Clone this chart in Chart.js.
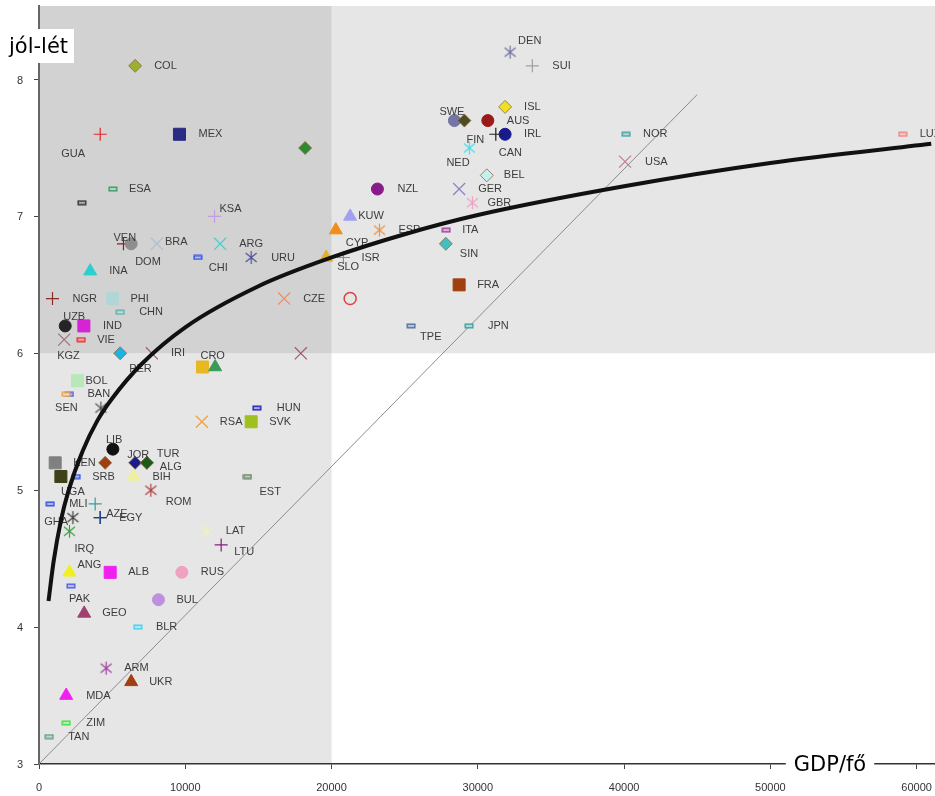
<!DOCTYPE html>
<html>
<head>
<meta charset="utf-8">
<script src="https://cdn.jsdelivr.net/npm/chart.js@4/dist/chart.umd.min.js"></script>
<style>
html,body{margin:0;padding:0;background:#fff;}
#wrap{position:relative;width:935px;height:796px;}
canvas{display:block;}
</style>
</head>
<body>
<div id="wrap"><canvas id="c" width="935" height="796"></canvas></div>
<script>
// ---------- DATA ----------
const countries = ['COL','GUA','MEX','','ESA','','KSA','VEN','DOM','BRA','ARG','CHI','URU','INA','NGR','PHI','CHN','UZB','IND','KGZ','VIE','PER','IRI','CRO','','','CZE','BOL','CYP','SLO','ISR','KUW','NZL','ESP','','GER','GBR','ITA','SIN','FRA','TPE','JPN','BEL','DEN','SUI','ISL','SWE','FIN','AUS','IRL','CAN','NED','NOR','USA','LUX','BAN','SEN','','HUN','RSA','SVK','LIB','KEN','','UGA','SRB','JOR','TUR','ALG','BIH','ROM','EST','GHA','MLI','','AZE','EGY','IRQ','LAT','LTU','ANG','ALB','RUS','PAK','BUL','GEO','BLR','ARM','UKR','MDA','ZIM','TAN'];
const gdpPerCapita = [6575,4184,9604,18196,5051,2932,11996,5776,6302,8059,12385,10861,14505,3500,923,5024,5550,1791,3069,1722,2885,5550,7717,11176,12044,17900,16760,2632,20293,19631,20813,21272,23138,23275,21272,28723,29632,27834,27813,28723,25441,29400,30615,32208,33730,31866,28400,29084,30684,31866,31230,29427,40137,40068,59050,2085,1850,4231,14894,11135,14505,5051,1107,4525,1497,2543,6575,7375,7375,6459,7648,14252,766,3841,2317,4184,4184,2085,11476,12454,2085,4867,9767,2180,8168,3090,6760,4593,6302,1859,1859,697];
const wellbeing = [8.1,7.6,7.6,7.5,7.2,7.1,7.0,6.8,6.8,6.8,6.8,6.7,6.7,6.6,6.4,6.4,6.3,6.2,6.2,6.1,6.1,6.0,6.0,5.9,5.9,6.0,6.4,5.8,6.9,6.7,6.7,7.0,7.2,6.9,6.4,7.2,7.1,6.9,6.8,6.5,6.2,6.2,7.3,8.2,8.1,7.8,7.7,7.7,7.7,7.6,7.6,7.5,7.6,7.4,7.6,5.7,5.7,5.6,5.6,5.5,5.5,5.3,5.2,5.2,5.1,5.1,5.2,5.2,5.2,5.1,5.0,5.1,4.9,4.9,4.8,4.8,4.8,4.7,4.7,4.6,4.4,4.4,4.4,4.3,4.2,4.1,4.0,3.7,3.6,3.5,3.3,3.2];

// trend curve
const trendX = [650,1000,1500,2000,3000,4000,5000,7000,10000,15000,20000,25000,30000,40000,50000,61000];
const trendY = [4.19,4.48,4.78,4.99,5.29,5.51,5.67,5.92,6.19,6.49,6.70,6.87,7.01,7.22,7.39,7.53];
// reference diagonal
const diagX = [0,45000];
const diagY = [3,7.89];

const xTicks = [0,10000,20000,30000,40000,50000,60000];
const yTicks = [3,4,5,6,7,8];
const xTitle = 'GDP/fő';
const yTitle = 'jól-lét';
const xSplit = 20000;
const ySplit = 6;

// ---------- STYLES (parallel to countries) ----------
const markerStyles = [
 ['diamond','#9cb02c'],['plus','#e82424'],['square','#2b2b84'],['diamond','#2e8a2e'],['dash','#3f9a68'],['dash','#333333'],
 ['plus','#c49ce0'],['plus','#8b1c1c'],['circle','#8e8e8e'],['x','#aebcd6'],['x','#3cd2d2'],['dash','#3050e0'],['star','#50509c'],
 ['triangle','#2ccfcf'],['plus','#8b2a2a'],['square','#b0d6d6'],['dash','#5cb0b0'],['circle','#252525'],['square','#d424d4'],
 ['x','#a07080'],['dash','#e03030'],['diamond','#1eb2e2'],['x','#a06070'],['square','#e8b820'],['triangle','#3a9a5a'],['x','#a05a6a'],
 ['x','#e89060'],['square','#b8e8b8'],['triangle','#f08e1c'],['triangle','#e0b030'],['plus','#8a9a40'],['triangle','#a0a0f0'],
 ['circle','#8a1a8a'],['star','#f09040'],['ocircle','#e04040'],['x','#9080c0'],['star','#f0a0c0'],['dash','#a040a0'],
 ['diamond','#40c0c0'],['square','#a04010'],['dash','#5070a0'],['dash','#40a0a0'],['diamond','#c4f0f0'],['star','#7070a0'],
 ['plus','#a0a0a0'],['diamond','#f0e020'],['circle','#7474a6'],['diamond','#4c4c1c'],['circle','#9a1a1a'],['circle','#1a1a90'],
 ['plus','#202020'],['star','#40e0f0'],['dash','#40a0a0'],['x','#c08090'],['dash','#f08080'],['dash','#4060e0'],['dash','#f0a040'],
 ['star','#505050'],['dash','#2020c0'],['x','#f0a040'],['square','#a0c020'],['circle','#111111'],['square','#808080'],
 ['diamond','#a04010'],['square','#404018'],['dash','#3050e0'],['diamond','#1a1a90'],['diamond','#1a5a1a'],['diamond','#1a5a1a'],
 ['triangle','#f0f0a0'],['star','#b04040'],['dash','#608060'],['dash','#3050e0'],['plus','#30a0a0'],['star','#404040'],
 ['plus','#204080'],['plus','#204080'],['star','#40a040'],['star','#f0f0c0'],['plus','#802080'],['triangle','#f0f020'],
 ['square','#f020f0'],['circle','#f0a0c0'],['dash','#5060e0'],['circle','#c090e0'],['triangle','#a04070'],['dash','#40d0f0'],
 ['star','#a040a0'],['triangle','#a04010'],['triangle','#f020f0'],['dash','#40e040'],['dash','#60a080']
];
// label offsets [dx to left edge, dy to middle] in px; default [19,0]
const labelOffsets = {
 GUA:[-39,20], ESA:[16,0], KSA:[5,-7], VEN:[-10,-6], DOM:[4,18], BRA:[8,-2], CHI:[11,10], URU:[20,0], NGR:[20,0], PHI:[18,0],
 UZB:[-2,-9], KGZ:[-7,16], VIE:[16,0], PER:[9,16], CRO:[-2,-11], BOL:[8,0], CYP:[10,13], SLO:[11,9], ISR:[18,0], KUW:[8,0],
 NZL:[20,0], GBR:[15,0], ITA:[16,0], SIN:[14,10], FRA:[18,0], TPE:[9,11], BEL:[17,0], DEN:[8,-11], SUI:[20,0], SWE:[-15,-9],
 FIN:[2,19], CAN:[3,19], NED:[-23,15], NOR:[17,0], USA:[20,0], LUX:[17,0], BAN:[18,0], SEN:[-11,14], HUN:[20,0], RSA:[18,0],
 SVK:[18,0], LIB:[-7,-9], KEN:[18,0], UGA:[0,15], SRB:[16,0], JOR:[-8,-8], TUR:[10,-9], ALG:[13,4], ROM:[15,12], EST:[12,15],
 GHA:[-6,18], MLI:[-26,0], AZE:[6,-4], IRQ:[5,18], LTU:[13,7], ANG:[8,-7], ALB:[18,0], PAK:[-2,13], BUL:[18,0], GEO:[18,0],
 BLR:[18,0], ARM:[18,0], UKR:[18,0], MDA:[20,0], ZIM:[20,0], TAN:[19,0]
};

// ---------- marker builders ----------
function lighten(hex, f){
  const n=parseInt(hex.slice(1),16);let r=n>>16,g=(n>>8)&255,b=n&255;
  r=Math.round(r+(255-r)*f);g=Math.round(g+(255-g)*f);b=Math.round(b+(255-b)*f);
  return 'rgb('+r+','+g+','+b+')';
}
function makeDash(color){
  const c=document.createElement('canvas');c.width=10;c.height=6;
  const x=c.getContext('2d');
  x.fillStyle=lighten(color,0.6);x.fillRect(1,1,8,4);
  x.strokeStyle=color;x.lineWidth=1.4;x.strokeRect(1.2,1.2,7.6,3.6);
  return c;
}
function makeStar(color){
  const c=document.createElement('canvas');c.width=15;c.height=15;
  const x=c.getContext('2d');x.strokeStyle=color;x.lineWidth=1.2;
  x.beginPath();
  x.moveTo(7.5,1);x.lineTo(7.5,14);
  x.moveTo(2,3);x.lineTo(13,12);
  x.moveTo(13,3);x.lineTo(2,12);
  x.stroke();
  return c;
}
const pStyle=[],pBg=[],pBorder=[],pRadius=[],pBW=[];
markerStyles.forEach(([s,col])=>{
  let st,r=6,bw=1,bg=col,bd=col;
  switch(s){
    case 'circle': st='circle'; r=6; break;
    case 'ocircle': st='circle'; r=6; bg='rgba(0,0,0,0)'; bw=1.5; break;
    case 'square': st='rect'; r=8.5; break;
    case 'diamond': st='rectRot'; r=6.5; bd='#8a6a4a'; bw=0.8; break;
    case 'triangle': st='triangle'; r=7.5; break;
    case 'plus': st='cross'; r=6.5; bw=1.2; break;
    case 'x': st='crossRot'; r=8.5; bw=1.2; break;
    case 'star': st=makeStar(col); r=7; break;
    case 'dash': st=makeDash(col); r=5; break;
  }
  pStyle.push(st);pBg.push(bg);pBorder.push(bd);pRadius.push(r);pBW.push(bw);
});

// ---------- plugins ----------
const zones = {
  id:'zones',
  beforeDraw(chart){
    const {ctx,chartArea:a,scales:{x,y}}=chart;
    const xs=x.getPixelForValue(xSplit), ys=y.getPixelForValue(ySplit);
    ctx.save();
    ctx.fillStyle='#e6e6e6';
    ctx.fillRect(a.left,a.top,a.right-a.left,ys-a.top);
    ctx.fillRect(a.left,ys,xs-a.left,a.bottom-ys);
    ctx.fillStyle='#d2d2d2';
    ctx.fillRect(a.left,a.top,xs-a.left,ys-a.top);
    ctx.restore();
  }
};
const labels = {
  id:'labels',
  afterDatasetDraw(chart,args){
    if(args.index!==1) return;
    const ctx=chart.ctx;
    ctx.save();
    ctx.font='11px "Liberation Sans", Arial, sans-serif';
    ctx.fillStyle='#3c3c3c';
    ctx.textAlign='left';ctx.textBaseline='middle';
    args.meta.data.forEach((el,i)=>{
      const code=countries[i]; if(!code) return;
      const o=labelOffsets[code]||[19,0];
      ctx.fillText(code, el.x+o[0], el.y+o[1]);
    });
    ctx.restore();
  }
};
const titles = {
  id:'titles',
  afterDraw(chart){
    const {ctx,chartArea:a,scales:{x,y}}=chart;
    ctx.save();
    ctx.font='11px "Liberation Sans", Arial, sans-serif';
    ctx.fillStyle='#333';
    ctx.textBaseline='middle';
    ctx.textAlign='center';
    xTicks.forEach(v=>ctx.fillText(String(v), x.getPixelForValue(v), a.bottom+24));
    ctx.textAlign='right';
    yTicks.forEach(v=>ctx.fillText(String(v), 23, y.getPixelForValue(v)+1));
    ctx.fillStyle='#fff';
    ctx.fillRect(0,29,74,34);
    ctx.fillStyle='#000';
    ctx.font='21px "DejaVu Sans", Verdana, sans-serif';
    ctx.textAlign='left';ctx.textBaseline='alphabetic';
    ctx.fillText(yTitle,9,53);
    const w=ctx.measureText(xTitle).width;
    const cx=830;
    ctx.fillStyle='#fff';
    ctx.fillRect(cx-w/2-8,a.bottom-12,w+16,22);
    ctx.fillStyle='#000';ctx.textAlign='center';
    ctx.fillText(xTitle,cx,a.bottom+7);
    ctx.restore();
  }
};

new Chart(document.getElementById('c'),{
  type:'scatter',
  data:{datasets:[
    {label:'trend',data:trendX.map((v,i)=>({x:v,y:trendY[i]})),showLine:true,borderColor:'#111',borderWidth:4,
     pointRadius:0,cubicInterpolationMode:'monotone',order:0},
    {label:'countries',data:gdpPerCapita.map((v,i)=>({x:v,y:wellbeing[i]})),pointStyle:pStyle,backgroundColor:pBg,
     borderColor:pBorder,pointRadius:pRadius,borderWidth:pBW,order:1},
    {label:'diag',data:diagX.map((v,i)=>({x:v,y:diagY[i]})),showLine:true,borderColor:'#8c8c8c',borderWidth:1,pointRadius:0,order:2}
  ]},
  options:{
    responsive:false,animation:false,devicePixelRatio:1,
    layout:{autoPadding:false,padding:{top:6,left:0,right:0,bottom:0}},
    plugins:{legend:{display:false},tooltip:{enabled:false}},
    scales:{
      x:{type:'linear',min:0,max:61257,
        afterBuildTicks(s){s.ticks=xTicks.map(v=>({value:v}));},
        afterFit(s){s.height=32;},
        grid:{drawOnChartArea:false,drawTicks:true,tickLength:5,color:'#444'},
        border:{color:'#333',width:1.5},
        ticks:{display:false}
      },
      y:{type:'linear',min:3,max:8.537,
        afterBuildTicks(s){s.ticks=yTicks.map(v=>({value:v}));},
        afterFit(s){s.width=39;},
        grid:{drawOnChartArea:false,drawTicks:true,tickLength:5,color:'#444'},
        border:{color:'#666',width:2},
        ticks:{display:false}
      }
    }
  },
  plugins:[zones,labels,titles]
});
</script>
</body>
</html>
